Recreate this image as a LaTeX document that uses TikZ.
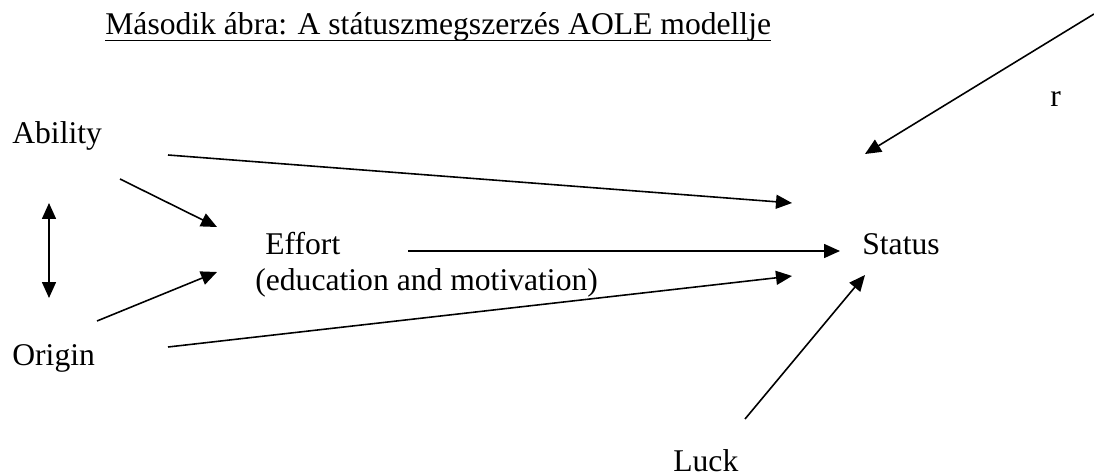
\documentclass[tikz,border=0pt]{standalone}
\usepackage{fontspec}
\setmainfont{Liberation Serif}
\usetikzlibrary{arrows.meta}

\begin{document}
\begin{tikzpicture}[x = 0.02cm, y = -0.02cm, font = \fontsize{18}{22}\selectfont,
        lbl/.style = {inner sep = 0pt, anchor = base west},
        arr/.style = {line width = 0.9pt, -{Triangle[length = 0.32cm, width = 0.28cm]}},
        darr/.style = {line width = 0.9pt, {Triangle[length = 0.32cm, width = 0.28cm]}-{Triangle[length = 0.32cm, width = 0.28cm]}}]
        \useasboundingbox (0,0) rectangle (1094,476);
        
        \node [lbl] (title) at (105,35) {Második ábra: A státuszmegszerzés AOLE modellje};
        \draw [line width = 1pt] ([yshift = -0.11cm]title.base west) -- ([yshift = -0.11cm]title.base east);
        
        \node [lbl] (ability) at (12,144) {Ability};
        \node [lbl] (origin) at (12,365) {Origin};
        \node [lbl] (effort) at (265,254) {Effort};
        \node [lbl] (edu) at (255,290) {(education and motivation)};
        \node [lbl] (status) at (862,254) {Status};
        \node [lbl] (luck) at (673,471) {Luck};
        \node [lbl] (rlabel) at (1050,107) {r};
        
        % free ends of the arrows
        \coordinate (ab1) at (168,155);
        \coordinate (ab2) at (120,179);
        \coordinate (or1) at (168,347);
        \coordinate (or2) at (97,321);
        \coordinate (ef1) at (408,251);
        \coordinate (lu1) at (745,419);
        \coordinate (r1) at (1094,14);
        \coordinate (ao1) at (49,203);
        \coordinate (ao2) at (49,298);
        \coordinate (ef-in1) at (217,227);
        \coordinate (ef-in2) at (217,272);
        \coordinate (st-in1) at (792,203);
        \coordinate (st-in2) at (840,251);
        \coordinate (st-in3) at (792,276);
        \coordinate (st-in4) at (865,275);
        \coordinate (st-in5) at (865,154);
        
        \draw [arr] (ab1) -- (st-in1);
        \draw [arr] (ab2) -- (ef-in1);
        \draw [arr] (or2) -- (ef-in2);
        \draw [arr] (or1) -- (st-in3);
        \draw [arr] (ef1) -- (st-in2);
        \draw [arr] (lu1) -- (st-in4);
        \draw [arr] (r1) -- (st-in5);
        \draw [darr] (ao1) -- (ao2);
    \end{tikzpicture}
\end{document}
